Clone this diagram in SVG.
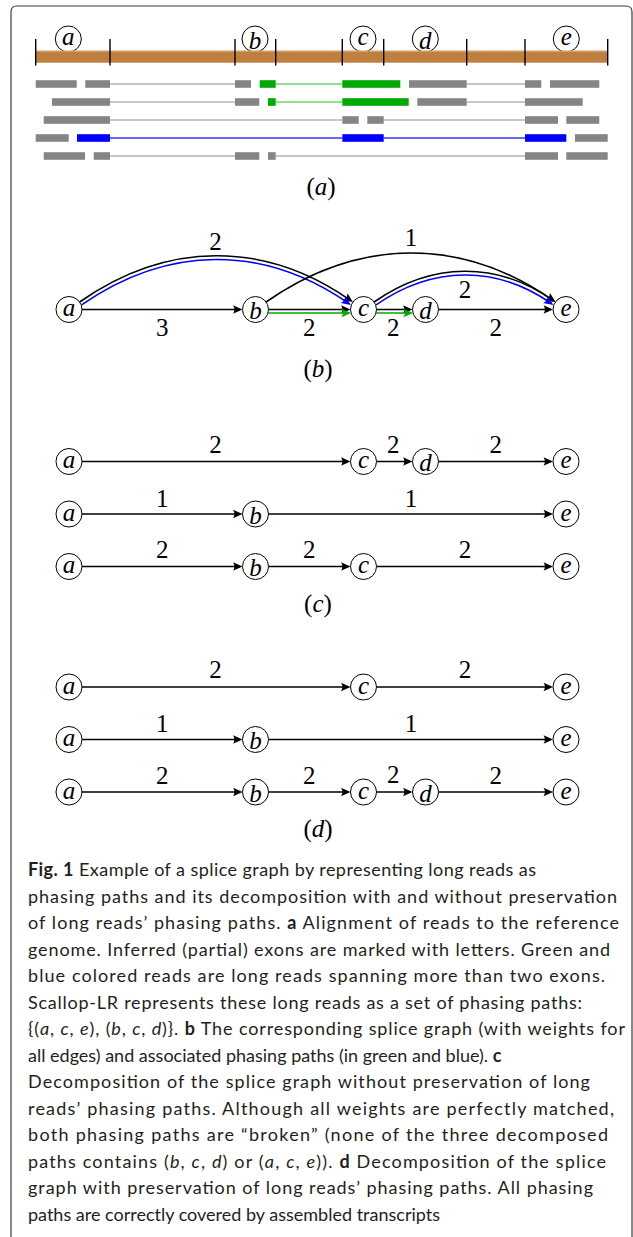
<svg xmlns="http://www.w3.org/2000/svg" width="633" height="1237" viewBox="0 0 633 1237">
<style>
.frame{fill:none;stroke:#3a3a3a;stroke-width:1.2}
.g{fill:#858585}.gr{fill:#00AA00}.bl{fill:#0000FF}
.il{stroke:#b4b4b4;stroke-width:1.4;fill:none}
.gl{stroke:#6cd46c;stroke-width:1.4;fill:none}
.bll{stroke:#3535ff;stroke-width:1.4;fill:none}
.tick{stroke:#000;stroke-width:1.4}
.nd{fill:#fff;stroke:#000;stroke-width:1}
.ndt{font-family:"Liberation Serif",serif;font-style:italic;font-size:25px;text-anchor:middle;fill:#000}
.num{font-family:"Liberation Serif",serif;font-size:25px;text-anchor:middle;fill:#000}
.pl{font-family:"Liberation Serif",serif;font-size:25px;text-anchor:middle;fill:#000}
.e{stroke:#000;stroke-width:1.6;fill:none;marker-end:url(#ak)}
.eg{stroke:#00AA00;stroke-width:1.6;fill:none;marker-end:url(#ag)}
.eb{stroke:#0000FF;stroke-width:1.6;fill:none;marker-end:url(#ab)}
.cap{font-family:Lato,"Open Sans",sans-serif;font-size:18px;fill:#231f20}
.b{font-weight:bold}.i{font-style:italic}
</style>
<defs>
<marker id="ak" viewBox="-8 -5 12 10" refX="0" refY="0" markerWidth="12" markerHeight="10" markerUnits="userSpaceOnUse" orient="auto"><path d="M3,0 L-6.5,-4.2 Q-3.6,0 -6.5,4.2 Z" fill="#000"/></marker>
<marker id="ag" viewBox="-8 -5 12 10" refX="0" refY="0" markerWidth="12" markerHeight="10" markerUnits="userSpaceOnUse" orient="auto"><path d="M3,0 L-6.5,-4.2 Q-3.6,0 -6.5,4.2 Z" fill="#00AA00"/></marker>
<marker id="ab" viewBox="-8 -5 12 10" refX="0" refY="0" markerWidth="12" markerHeight="10" markerUnits="userSpaceOnUse" orient="auto"><path d="M3,0 L-6.5,-4.2 Q-3.6,0 -6.5,4.2 Z" fill="#0000FF"/></marker>
</defs>
<rect width="633" height="1237" fill="#fff"/>
<path class="frame" d="M11,1240 V12 Q11,6 17,6 H626 Q632,6 632,12 V1240"/>

<!-- Panel (a) -->
<g id="panel-a">
<g id="exon-labels">
<g id="ex-a"><circle cx="68.3" cy="39" r="13" fill="none" stroke="#000" stroke-width="1"/><text class="ndt" x="68.3" y="45">a</text></g>
<g id="ex-b"><circle cx="255" cy="39" r="13" fill="none" stroke="#000" stroke-width="1"/><text class="ndt" x="255" y="48.5">b</text></g>
<g id="ex-c"><circle cx="363" cy="39" r="13" fill="none" stroke="#000" stroke-width="1"/><text class="ndt" x="363" y="45">c</text></g>
<g id="ex-d"><circle cx="425.3" cy="39" r="13" fill="none" stroke="#000" stroke-width="1"/><text class="ndt" x="425.3" y="48.5">d</text></g>
<g id="ex-e"><circle cx="566.3" cy="39" r="13" fill="none" stroke="#000" stroke-width="1"/><text class="ndt" x="566.3" y="45">e</text></g>
</g>
<rect x="35.7" y="50.7" width="572" height="12" fill="#BF7F3F"/>
<rect x="35.7" y="50.7" width="572" height="1" fill="#d9b088"/>
<g id="ticks">
<line class="tick" x1="35.7" y1="39" x2="35.7" y2="65.5"/>
<line class="tick" x1="110" y1="39" x2="110" y2="65.5"/>
<line class="tick" x1="235" y1="39" x2="235" y2="65.5"/>
<line class="tick" x1="275.7" y1="39" x2="275.7" y2="65.5"/>
<line class="tick" x1="342.3" y1="39" x2="342.3" y2="65.5"/>
<line class="tick" x1="383.7" y1="39" x2="383.7" y2="65.5"/>
<line class="tick" x1="466.7" y1="39" x2="466.7" y2="65.5"/>
<line class="tick" x1="525" y1="39" x2="525" y2="65.5"/>
<line class="tick" x1="607.7" y1="39" x2="607.7" y2="65.5"/>
</g>
<g id="reads">
<line class="il" x1="110" y1="84" x2="235" y2="84"/>
<line class="gl" x1="275.7" y1="84" x2="342.3" y2="84"/>
<line class="il" x1="466.7" y1="84" x2="525" y2="84"/>
<rect class="g" x="35.7" y="80.2" width="41" height="7.6"/>
<rect class="g" x="85.3" y="80.2" width="24.7" height="7.6"/>
<rect class="g" x="235" y="80.2" width="16" height="7.6"/>
<rect class="gr" x="259.7" y="80.2" width="16" height="7.6"/>
<rect class="gr" x="342.3" y="80.2" width="58" height="7.6"/>
<rect class="g" x="409" y="80.2" width="57.7" height="7.6"/>
<rect class="g" x="525" y="80.2" width="16.3" height="7.6"/>
<rect class="g" x="550" y="80.2" width="49.3" height="7.6"/>
<line class="il" x1="110" y1="102" x2="235" y2="102"/>
<line class="gl" x1="275.7" y1="102" x2="342.3" y2="102"/>
<line class="il" x1="466.7" y1="102" x2="525" y2="102"/>
<rect class="g" x="52" y="98.2" width="58" height="7.6"/>
<rect class="g" x="235" y="98.2" width="24.3" height="7.6"/>
<rect class="gr" x="268" y="98.2" width="7.7" height="7.6"/>
<rect class="gr" x="342.3" y="98.2" width="66.4" height="7.6"/>
<rect class="g" x="417.3" y="98.2" width="49.4" height="7.6"/>
<rect class="g" x="525" y="98.2" width="57.7" height="7.6"/>
<line class="il" x1="110" y1="120" x2="342.3" y2="120"/>
<line class="il" x1="383.7" y1="120" x2="525" y2="120"/>
<rect class="g" x="43.7" y="116.2" width="66.3" height="7.6"/>
<rect class="g" x="342.3" y="116.2" width="16.4" height="7.6"/>
<rect class="g" x="367.3" y="116.2" width="16.4" height="7.6"/>
<rect class="g" x="525" y="116.2" width="33" height="7.6"/>
<rect class="g" x="566.3" y="116.2" width="33" height="7.6"/>
<line class="bll" x1="110" y1="138" x2="342.3" y2="138"/>
<line class="bll" x1="383.7" y1="138" x2="525" y2="138"/>
<rect class="g" x="35.7" y="134.2" width="33" height="7.6"/>
<rect class="bl" x="77" y="134.2" width="33" height="7.6"/>
<rect class="bl" x="342.3" y="134.2" width="41.4" height="7.6"/>
<rect class="bl" x="525" y="134.2" width="41.3" height="7.6"/>
<rect class="g" x="575" y="134.2" width="32.7" height="7.6"/>
<line class="il" x1="110" y1="156" x2="235" y2="156"/>
<line class="il" x1="275.7" y1="156" x2="525" y2="156"/>
<rect class="g" x="43.7" y="152.2" width="41.3" height="7.6"/>
<rect class="g" x="93.7" y="152.2" width="16.3" height="7.6"/>
<rect class="g" x="235" y="152.2" width="24.3" height="7.6"/>
<rect class="g" x="268" y="152.2" width="7.7" height="7.6"/>
<rect class="g" x="525" y="152.2" width="33" height="7.6"/>
<rect class="g" x="566.3" y="152.2" width="41.4" height="7.6"/>
</g>
<text class="pl" x="321" y="194.5">(<tspan font-style="italic">a</tspan>)</text>
</g>

<!-- Panel (b) -->
<g id="panel-b">
<g id="b-edges">
<line class="e" x1="82" y1="309.5" x2="239.5" y2="309.5"/>
<line class="e" x1="268.5" y1="309.5" x2="347.5" y2="309.5"/>
<line class="eg" x1="268.3" y1="313" x2="348" y2="313"/>
<line class="e" x1="376.5" y1="309.5" x2="409.5" y2="309.5"/>
<line class="eg" x1="376.3" y1="313" x2="410" y2="313"/>
<line class="e" x1="438.5" y1="309.5" x2="550" y2="309.5"/>
<path class="e" d="M79.6,302 C167.3,240.6 265.2,240.6 350.4,300.3"/>
<path class="eb" d="M81.6,304.9 C168.5,244.6 263.5,244.6 348.4,303.2"/>
<path class="e" d="M266.1,302 C358.9,237 462.6,237 552.9,300.3"/>
<path class="e" d="M374.1,302 C432.2,261.3 497.3,261.3 552.9,300.3"/>
<path class="eb" d="M376.1,304.9 C433,265.3 496.5,265.3 550.9,303.2"/>
<text class="num" x="215.5" y="249.5">2</text>
<text class="num" x="411" y="246">1</text>
<text class="num" x="465" y="298.3">2</text>
<text class="num" x="162.3" y="336">3</text>
<text class="num" x="309.3" y="336">2</text>
<text class="num" x="393.3" y="336">2</text>
<text class="num" x="495.7" y="336">2</text>
</g>
<g id="b-a"><circle class="nd" cx="69" cy="309.5" r="13"/><text class="ndt" x="69" y="316">a</text></g>
<g id="b-b"><circle class="nd" cx="255.5" cy="309.5" r="13"/><text class="ndt" x="255.5" y="319">b</text></g>
<g id="b-c"><circle class="nd" cx="363.5" cy="309.5" r="13" fill-opacity="0"/><text class="ndt" x="363.5" y="316">c</text></g>
<g id="b-d"><circle class="nd" cx="425.5" cy="309.5" r="13"/><text class="ndt" x="425.5" y="319">d</text></g>
<g id="b-e"><circle class="nd" cx="566" cy="309.5" r="13" fill-opacity="0"/><text class="ndt" x="566" y="316">e</text></g>
<text class="pl" x="318" y="377">(<tspan font-style="italic">b</tspan>)</text>
</g>

<!-- Panel (c) -->
<g id="panel-c">
<g id="c-edges">
<line class="e" x1="82" y1="461.5" x2="347.5" y2="461.5"/>
<line class="e" x1="376.5" y1="461.5" x2="409.5" y2="461.5"/>
<line class="e" x1="438.5" y1="461.5" x2="550" y2="461.5"/>
<line class="e" x1="82" y1="514" x2="239.5" y2="514"/>
<line class="e" x1="268.5" y1="514" x2="550" y2="514"/>
<line class="e" x1="82" y1="566.5" x2="239.5" y2="566.5"/>
<line class="e" x1="268.5" y1="566.5" x2="347.5" y2="566.5"/>
<line class="e" x1="376.5" y1="566.5" x2="550" y2="566.5"/>
<text class="num" x="215.5" y="452.7">2</text>
<text class="num" x="393.3" y="452.5">2</text>
<text class="num" x="495.7" y="452.7">2</text>
<text class="num" x="162.3" y="506.5">1</text>
<text class="num" x="411" y="506.5">1</text>
<text class="num" x="162.3" y="558.3">2</text>
<text class="num" x="309.3" y="558.3">2</text>
<text class="num" x="465" y="558.3">2</text>
</g>
<g id="c1-a"><circle class="nd" cx="69" cy="461.5" r="13"/><text class="ndt" x="69" y="468">a</text></g>
<g id="c1-c"><circle class="nd" cx="363.5" cy="461.5" r="13"/><text class="ndt" x="363.5" y="468">c</text></g>
<g id="c1-d"><circle class="nd" cx="425.5" cy="461.5" r="13"/><text class="ndt" x="425.5" y="471">d</text></g>
<g id="c1-e"><circle class="nd" cx="566" cy="461.5" r="13"/><text class="ndt" x="566" y="468">e</text></g>
<g id="c2-a"><circle class="nd" cx="69" cy="514" r="13"/><text class="ndt" x="69" y="520.5">a</text></g>
<g id="c2-b"><circle class="nd" cx="255.5" cy="514" r="13"/><text class="ndt" x="255.5" y="523.5">b</text></g>
<g id="c2-e"><circle class="nd" cx="566" cy="514" r="13"/><text class="ndt" x="566" y="520.5">e</text></g>
<g id="c3-a"><circle class="nd" cx="69" cy="566.5" r="13"/><text class="ndt" x="69" y="573">a</text></g>
<g id="c3-b"><circle class="nd" cx="255.5" cy="566.5" r="13"/><text class="ndt" x="255.5" y="576">b</text></g>
<g id="c3-c"><circle class="nd" cx="363.5" cy="566.5" r="13"/><text class="ndt" x="363.5" y="573">c</text></g>
<g id="c3-e"><circle class="nd" cx="566" cy="566.5" r="13"/><text class="ndt" x="566" y="573">e</text></g>
<text class="pl" x="318" y="612">(<tspan font-style="italic">c</tspan>)</text>
</g>

<!-- Panel (d) -->
<g id="panel-d">
<g id="d-edges">
<line class="e" x1="82" y1="687" x2="347.5" y2="687"/>
<line class="e" x1="376.5" y1="687" x2="550" y2="687"/>
<line class="e" x1="82" y1="739.5" x2="239.5" y2="739.5"/>
<line class="e" x1="268.5" y1="739.5" x2="550" y2="739.5"/>
<line class="e" x1="82" y1="792" x2="239.5" y2="792"/>
<line class="e" x1="268.5" y1="792" x2="347.5" y2="792"/>
<line class="e" x1="376.5" y1="792" x2="409.5" y2="792"/>
<line class="e" x1="438.5" y1="792" x2="550" y2="792"/>
<text class="num" x="215.5" y="678">2</text>
<text class="num" x="465" y="678">2</text>
<text class="num" x="162.3" y="732">1</text>
<text class="num" x="411" y="732">1</text>
<text class="num" x="162.3" y="783.6">2</text>
<text class="num" x="309.3" y="783.6">2</text>
<text class="num" x="393.3" y="783.4">2</text>
<text class="num" x="495.7" y="783.6">2</text>
</g>
<g id="d1-a"><circle class="nd" cx="69" cy="687" r="13"/><text class="ndt" x="69" y="693.5">a</text></g>
<g id="d1-c"><circle class="nd" cx="363.5" cy="687" r="13"/><text class="ndt" x="363.5" y="693.5">c</text></g>
<g id="d1-e"><circle class="nd" cx="566" cy="687" r="13"/><text class="ndt" x="566" y="693.5">e</text></g>
<g id="d2-a"><circle class="nd" cx="69" cy="739.5" r="13"/><text class="ndt" x="69" y="746">a</text></g>
<g id="d2-b"><circle class="nd" cx="255.5" cy="739.5" r="13"/><text class="ndt" x="255.5" y="749">b</text></g>
<g id="d2-e"><circle class="nd" cx="566" cy="739.5" r="13"/><text class="ndt" x="566" y="746">e</text></g>
<g id="d3-a"><circle class="nd" cx="69" cy="792" r="13"/><text class="ndt" x="69" y="798.5">a</text></g>
<g id="d3-b"><circle class="nd" cx="255.5" cy="792" r="13"/><text class="ndt" x="255.5" y="801.5">b</text></g>
<g id="d3-c"><circle class="nd" cx="363.5" cy="792" r="13"/><text class="ndt" x="363.5" y="798.5">c</text></g>
<g id="d3-d"><circle class="nd" cx="425.5" cy="792" r="13"/><text class="ndt" x="425.5" y="801.5">d</text></g>
<g id="d3-e"><circle class="nd" cx="566" cy="792" r="13"/><text class="ndt" x="566" y="798.5">e</text></g>
<text class="pl" x="318" y="837">(<tspan font-style="italic">d</tspan>)</text>
</g>

<!-- Caption -->
<g id="caption" class="cap">
<text x="28" y="876" textLength="508"><tspan class="b">Fig. 1</tspan> Example of a splice graph by representing long reads as</text>
<text x="28" y="902.5" textLength="589">phasing paths and its decomposition with and without preservation</text>
<text x="28" y="929" textLength="591">of long reads’ phasing paths. <tspan class="b">a</tspan> Alignment of reads to the reference</text>
<text x="28" y="955.5" textLength="582">genome. Inferred (partial) exons are marked with letters. Green and</text>
<text x="28" y="982" textLength="577">blue colored reads are long reads spanning more than two exons.</text>
<text x="28" y="1008.5" textLength="554">Scallop-LR represents these long reads as a set of phasing paths:</text>
<text x="28" y="1035" textLength="597">{(<tspan class="i">a</tspan>, <tspan class="i">c</tspan>, <tspan class="i">e</tspan>), (<tspan class="i">b</tspan>, <tspan class="i">c</tspan>, <tspan class="i">d</tspan>)}. <tspan class="b">b</tspan> The corresponding splice graph (with weights for</text>
<text x="28" y="1061.5">all edges) and associated phasing paths (in green and blue). <tspan class="b">c</tspan></text>
<text x="28" y="1088" textLength="562">Decomposition of the splice graph without preservation of long</text>
<text x="28" y="1114.5" textLength="586">reads’ phasing paths. Although all weights are perfectly matched,</text>
<text x="28" y="1141" textLength="580">both phasing paths are “broken” (none of the three decomposed</text>
<text x="28" y="1167.5" textLength="578">paths contains (<tspan class="i">b</tspan>, <tspan class="i">c</tspan>, <tspan class="i">d</tspan>) or (<tspan class="i">a</tspan>, <tspan class="i">c</tspan>, <tspan class="i">e</tspan>)). <tspan class="b">d</tspan> Decomposition of the splice</text>
<text x="28" y="1194" textLength="565">graph with preservation of long reads’ phasing paths. All phasing</text>
<text x="28" y="1220.5">paths are correctly covered by assembled transcripts</text>
</g>
</svg>
